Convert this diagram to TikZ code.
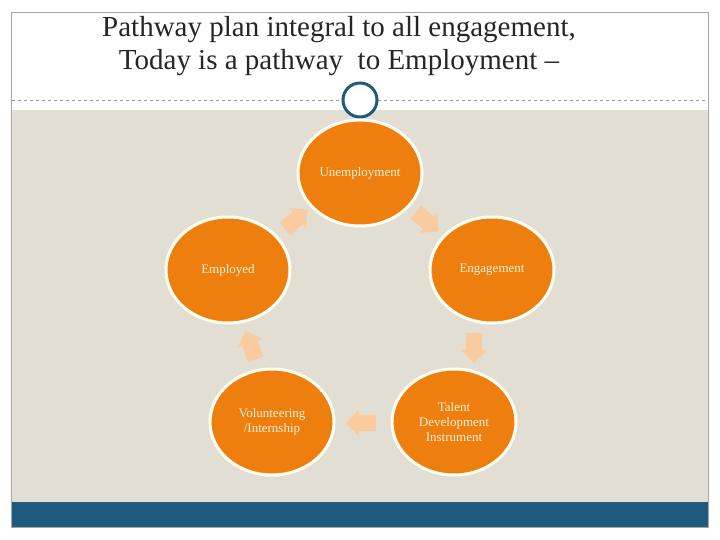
\documentclass[tikz,border=0pt]{standalone}
\usepackage{fontspec}
\setmainfont{Liberation Serif}
\usetikzlibrary{shapes.arrows,shapes.geometric}
\definecolor{org}{HTML}{EE7F0E}
\definecolor{lorg}{HTML}{F9CB9F}
\definecolor{beige}{HTML}{E3DED3}
\definecolor{navy}{HTML}{1F5A7F}
\definecolor{txt}{HTML}{FDF2D8}
\begin{document}
\begin{tikzpicture}[x=1pt,y=-1pt,
  blob/.style={ellipse,fill=org,draw=white!95!yellow,line width=3pt,minimum width=124pt,minimum height=106pt,text=txt,font=\fontsize{13}{15}\selectfont,align=center,inner sep=1pt},
  arr/.style={single arrow,fill=lorg,minimum height=30pt,inner sep=8pt,single arrow head extend=5pt,single arrow head indent=0pt,anchor=center}]
\useasboundingbox (0,0) rectangle (720,540);
\fill[white] (0,0) rectangle (720,540);
\fill[beige] (12,110) rectangle (708,502);
\fill[navy] (12,502) rectangle (708,527);
\draw[gray!70,line width=0.5pt] (11,12) rectangle (708,527);
\draw[gray!80,dashed,line width=0.6pt] (12,100) -- (708,100);
\node[circle,draw=navy,fill=white,line width=3pt,minimum size=34pt] (dot) at (360,100) {};
\node[font=\fontsize{29}{33}\selectfont,align=center,text=black!85] (title) at (339,46) {Pathway plan integral to all engagement,\\ Today is a pathway \ to Employment --};
\node[blob] (u) at (360,173) {Unemployment};
\node[blob] (e) at (228,270) {Employed};
\node[blob] (g) at (492,270) {Engagement};
\node[blob] (v) at (272,422) {Volunteering\\/Internship};
\node[blob] (t) at (454,422) {Talent\\Development\\Instrument};
\node[arr,rotate=-40] (a1) at (424,219) {};
\node[arr,rotate=-90] (a2) at (474,344) {};
\node[arr,rotate=180] (a3) at (365,423) {};
\node[arr,rotate=110] (a4) at (252,349) {};
\node[arr,rotate=40] (a5) at (293,222) {};
\end{tikzpicture}
\end{document}
